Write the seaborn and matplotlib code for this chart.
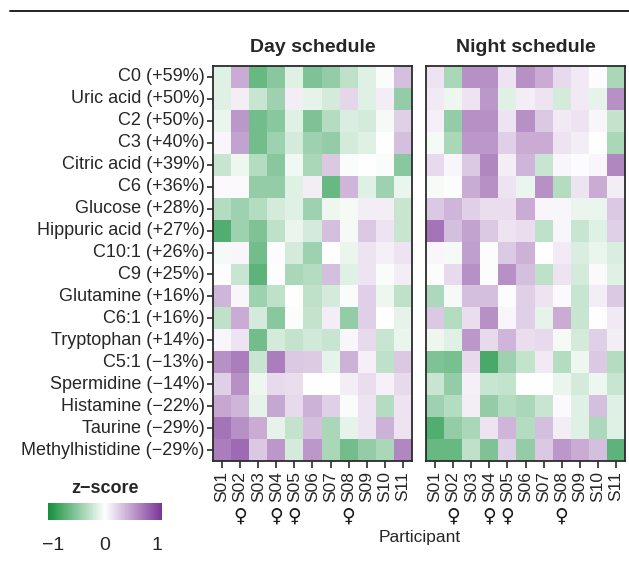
import numpy as np
import pandas as pd
import seaborn as sns
import matplotlib
matplotlib.use("Agg")
import matplotlib.pyplot as plt
from matplotlib.colors import LinearSegmentedColormap
from matplotlib.lines import Line2D

metabolites = ["C0 (+59%)", "Uric acid (+50%)", "C2 (+50%)", "C3 (+40%)",
               "Citric acid (+39%)", "C6 (+36%)", "Glucose (+28%)",
               "Hippuric acid (+27%)", "C10:1 (+26%)", "C9 (+25%)",
               "Glutamine (+16%)", "C6:1 (+16%)", "Tryptophan (+14%)",
               "C5:1 (\u221213%)", "Spermidine (\u221214%)", "Histamine (\u221222%)",
               "Taurine (\u221229%)", "Methylhistidine (\u221229%)"]
participants = ["S01", "\u2640S02", "S03", "\u2640S04", "\u2640S05", "S06",
                "S07", "\u2640S08", "S09", "S10", "S11"]

day = [
    [-0.15, 0.45, -0.70, -0.55, -0.15, -0.60, -0.50, -0.30, -0.15, -0.03, 0.35],
    [-0.15, 0.10, -0.25, -0.45, 0.10, -0.12, -0.20, 0.22, -0.15, 0.10, -0.50],
    [-0.10, 0.55, -0.65, -0.55, -0.15, -0.60, -0.35, -0.18, -0.20, -0.05, 0.25],
    [0.05, 0.50, -0.65, -0.45, -0.20, -0.45, -0.50, -0.20, -0.15, 0.00, 0.35],
    [-0.25, -0.08, -0.35, -0.55, -0.07, -0.40, 0.30, -0.03, 0.00, -0.03, -0.55],
    [0.03, 0.03, -0.50, -0.50, -0.15, 0.10, -0.70, 0.40, -0.15, -0.45, -0.10],
    [-0.35, -0.45, -0.35, -0.20, -0.15, -0.45, -0.08, -0.05, 0.10, 0.10, -0.25],
    [-0.80, -0.45, -0.60, -0.30, -0.10, -0.20, 0.35, -0.05, 0.30, 0.15, -0.25],
    [-0.05, 0.05, -0.65, 0.02, -0.20, -0.45, 0.00, -0.10, 0.15, 0.08, 0.15],
    [0.01, -0.25, -0.75, 0.01, -0.40, -0.35, 0.35, -0.15, 0.15, -0.03, 0.10],
    [0.40, 0.05, -0.45, -0.30, 0.00, -0.30, -0.20, -0.03, 0.25, -0.08, -0.30],
    [-0.30, 0.45, -0.20, -0.55, -0.02, -0.28, 0.10, -0.50, 0.25, 0.00, -0.12],
    [0.05, 0.15, -0.65, -0.20, -0.28, -0.22, -0.25, 0.05, 0.20, -0.25, -0.10],
    [0.60, 0.70, -0.25, 0.70, 0.30, 0.28, -0.12, 0.42, 0.08, -0.30, 0.30],
    [0.25, 0.60, -0.08, 0.20, 0.18, 0.00, 0.00, 0.10, 0.18, 0.07, 0.20],
    [0.48, 0.40, -0.12, 0.48, 0.20, 0.42, 0.25, -0.03, 0.15, -0.35, 0.15],
    [0.75, 0.60, 0.45, -0.12, -0.28, 0.35, -0.40, -0.12, 0.15, 0.42, 0.15],
    [0.70, 0.80, 0.30, 0.55, -0.20, 0.55, -0.40, -0.65, -0.50, -0.40, 0.65],
]
night = [
    [0.15, -0.40, 0.60, 0.60, 0.15, 0.60, 0.45, 0.20, 0.12, 0.02, -0.40],
    [0.12, -0.08, 0.15, 0.55, -0.15, 0.10, 0.15, -0.20, 0.12, -0.12, 0.60],
    [0.08, -0.50, 0.60, 0.60, 0.15, 0.60, 0.30, 0.12, 0.15, 0.05, -0.28],
    [-0.05, -0.40, 0.55, 0.55, 0.25, 0.45, 0.45, 0.15, 0.10, 0.00, -0.40],
    [0.20, 0.05, 0.30, 0.65, 0.10, 0.40, -0.25, 0.05, 0.02, 0.05, 0.65],
    [-0.04, -0.02, 0.45, 0.60, 0.15, -0.10, 0.60, -0.35, 0.15, 0.45, 0.10],
    [0.30, 0.40, 0.25, 0.18, 0.18, 0.45, 0.05, 0.05, -0.10, -0.10, 0.30],
    [0.75, 0.35, 0.50, 0.30, 0.15, 0.18, -0.30, 0.05, -0.25, -0.15, 0.25],
    [0.05, -0.05, 0.52, -0.02, 0.29, 0.42, 0.00, 0.11, -0.18, -0.10, -0.18],
    [-0.02, 0.20, 0.60, -0.02, 0.60, 0.35, -0.30, 0.15, -0.20, 0.03, -0.15],
    [-0.38, -0.05, 0.35, 0.35, 0.02, 0.25, 0.15, 0.03, -0.25, 0.10, 0.30],
    [0.30, -0.35, 0.18, 0.60, 0.05, 0.25, -0.12, 0.45, -0.25, 0.00, 0.12],
    [-0.08, -0.15, 0.55, 0.20, 0.40, 0.18, 0.20, -0.05, -0.20, 0.25, 0.10],
    [-0.60, -0.62, 0.20, -0.85, -0.45, -0.28, 0.12, -0.35, -0.08, 0.30, -0.35],
    [-0.25, -0.50, 0.08, -0.25, -0.28, 0.00, 0.00, -0.10, -0.20, -0.08, -0.25],
    [-0.45, -0.35, 0.10, -0.50, -0.35, -0.40, -0.25, 0.03, -0.15, 0.35, -0.15],
    [-0.80, -0.50, -0.40, 0.15, 0.40, -0.35, 0.35, 0.10, -0.15, -0.38, -0.15],
    [-0.70, -0.70, -0.30, -0.60, 0.25, -0.50, 0.30, 0.55, 0.45, 0.35, -0.75],
]

sns.set_theme(style="white")
plt.rcParams["font.family"] = ["Liberation Sans", "DejaVu Sans"]
plt.rcParams["axes.unicode_minus"] = True

cmap = LinearSegmentedColormap.from_list("gw_p", ["#13903c", "#ffffff", "#7b3497"])
vmin, vmax = -1.1, 1.1

fig = plt.figure(figsize=(6.29, 5.72), dpi=100)
ax1 = fig.add_axes([0.3386, 0.194, 0.3164, 0.6906])
ax2 = fig.add_axes([0.6773, 0.194, 0.3164, 0.6906])
cax = fig.add_axes([0.0763, 0.0909, 0.1812, 0.0297])

codes = [p.replace("\u2640", "") for p in participants]
female = [p.startswith("\u2640") for p in participants]

df_day = pd.DataFrame(day, index=metabolites, columns=codes)
df_night = pd.DataFrame(night, index=metabolites, columns=codes)

sns.heatmap(df_day, ax=ax1, cmap=cmap, vmin=vmin, vmax=vmax, cbar=True,
            cbar_ax=cax, cbar_kws={"orientation": "horizontal", "ticks": [-1, 0, 1]})
sns.heatmap(df_night, ax=ax2, cmap=cmap, vmin=vmin, vmax=vmax, cbar=False)

for ax, title in [(ax1, "Day schedule"), (ax2, "Night schedule")]:
    for sp in ax.spines.values():
        sp.set_visible(True)
        sp.set_color("#2b2b2b")
        sp.set_linewidth(1.3)
    ax.set_title(title, fontsize=14, fontweight="bold", pad=10)
    ax.set_xlabel("")
    ax.set_ylabel("")
    ax.set_xticklabels(codes, rotation=90, fontsize=12.5)
    ax.tick_params(axis="x", bottom=True, length=5, width=1.2, color="#2b2b2b", pad=2)
    for i, f in enumerate(female):
        if f:
            ax.annotate("\u2640", xy=(i + 0.5, 0), xycoords=("data", "axes fraction"),
                        xytext=(0, -32.5), textcoords="offset points",
                        ha="center", va="top", fontsize=13.5,
                        family=["DejaVu Sans"], color="#1a1a1a")

ax1.set_yticklabels(metabolites, rotation=0, fontsize=13)
ax1.tick_params(axis="y", left=True, length=4, width=1.2, color="#2b2b2b", pad=2)
ax2.set_yticks([])

fig.text(0.667, 0.061, "Participant", ha="center", va="center", fontsize=12.5)

cax.set_title("z\u2212score", fontsize=13, fontweight="bold", pad=7)
cax.xaxis.set_ticks_position("both")
cax.tick_params(axis="x", direction="in", color="white", length=3, width=1,
                labelsize=14, pad=12, top=True, bottom=True)
cax.set_xticklabels(["\u22121", "0", "1"])
for sp in cax.spines.values():
    sp.set_visible(False)

fig.add_artist(Line2D([0.0159, 1.0], [0.9816, 0.9816], transform=fig.transFigure,
                      color="#222222", linewidth=1.4))

fig.savefig("out.png", dpi=100)
